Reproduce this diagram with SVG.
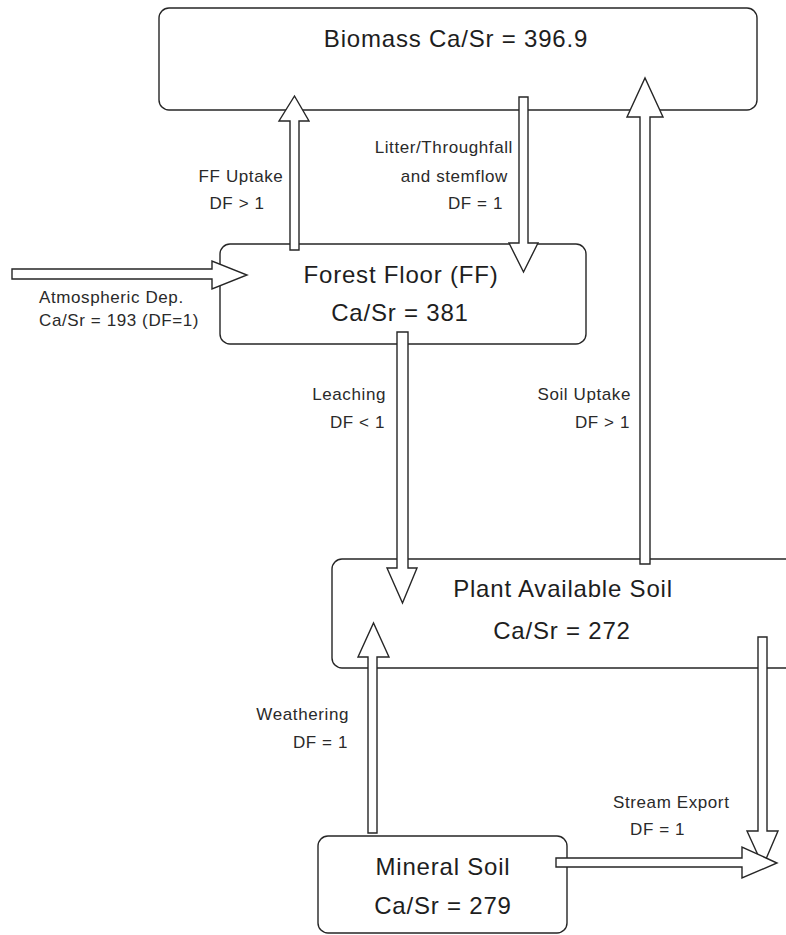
<svg xmlns="http://www.w3.org/2000/svg" width="786" height="935" viewBox="0 0 786 935">
<style>
.box{fill:#fff;stroke:#262626;stroke-width:1.4}
.arr{fill:#fff;stroke:#262626;stroke-width:1.4;stroke-linejoin:miter}
.big{font-family:"Liberation Sans",Arial,sans-serif;font-size:24px;fill:#1e1e1e;text-anchor:middle;letter-spacing:0.8px}
.lbl{font-family:"Liberation Sans",Arial,sans-serif;font-size:17px;fill:#2a2a2a;letter-spacing:0.6px}
.e{text-anchor:end}
.m{text-anchor:middle}
</style>
<rect width="786" height="935" fill="#fff"/>
<g id="biomass">
<rect class="box" x="159" y="8" width="598" height="102" rx="10"/>
<text class="big" x="456" y="47">Biomass Ca/Sr = 396.9</text>
</g>
<g id="forest-floor">
<rect class="box" x="220" y="244" width="366" height="100" rx="10"/>
<text class="big" x="401" y="283">Forest Floor (FF)</text>
<text class="big" x="400" y="321">Ca/Sr = 381</text>
</g>
<g id="plant-available-soil">
<rect class="box" x="332" y="559" width="480" height="109" rx="10"/>
<text class="big" x="563" y="597">Plant Available Soil</text>
<text class="big" x="562" y="639">Ca/Sr = 272</text>
</g>
<g id="mineral-soil">
<rect class="box" x="318" y="836" width="249" height="97" rx="10"/>
<text class="big" x="443" y="875">Mineral Soil</text>
<text class="big" x="443" y="914">Ca/Sr = 279</text>
</g>
<g id="connectors">
<polygon id="ff-uptake" class="arr" points="290,250 290,121 279,121 294.5,96 309,121 299,121 299,250"/>
<polygon id="litter" class="arr" points="519,97 528,97 528,243 538,243 523.5,272 509,243 519,243"/>
<polygon id="soil-uptake" class="arr" points="640,564 640,117 627,117 645,78 663,117 650,117 650,564"/>
<polygon id="leaching" class="arr" points="397,332 408,332 408,568 417,568 402.5,603 387,568 397,568"/>
<polygon id="weathering" class="arr" points="368,833 368,657 358,657 373.5,623 389,657 377,657 377,833"/>
<polygon id="stream-down" class="arr" points="758,637 767,637 767,831 778,831 763,866 747,831 758,831"/>
<polygon id="stream-export" class="arr" points="556,858 742,858 742,847 777,863 742,878 742,867 556,867"/>
<polygon id="atm-dep" class="arr" points="12,269 212,269 212,261 247,275 212,289 212,279 12,279"/>
</g>
<g id="labels">
<text class="lbl" x="39" y="303">Atmospheric Dep.</text>
<text class="lbl" x="39" y="326">Ca/Sr = 193 (DF=1)</text>
<text class="lbl m" x="241" y="182">FF Uptake</text>
<text class="lbl m" x="237" y="209">DF &gt; 1</text>
<text class="lbl e" x="513" y="153">Litter/Throughfall</text>
<text class="lbl e" x="508" y="182">and stemflow</text>
<text class="lbl e" x="503" y="209">DF = 1</text>
<text class="lbl e" x="386" y="400">Leaching</text>
<text class="lbl e" x="385" y="428">DF &lt; 1</text>
<text class="lbl e" x="631" y="400">Soil Uptake</text>
<text class="lbl e" x="630" y="428">DF &gt; 1</text>
<text class="lbl e" x="349" y="720">Weathering</text>
<text class="lbl e" x="348" y="748">DF = 1</text>
<text class="lbl" x="613" y="808">Stream Export</text>
<text class="lbl" x="630" y="835">DF = 1</text>
</g>
</svg>
